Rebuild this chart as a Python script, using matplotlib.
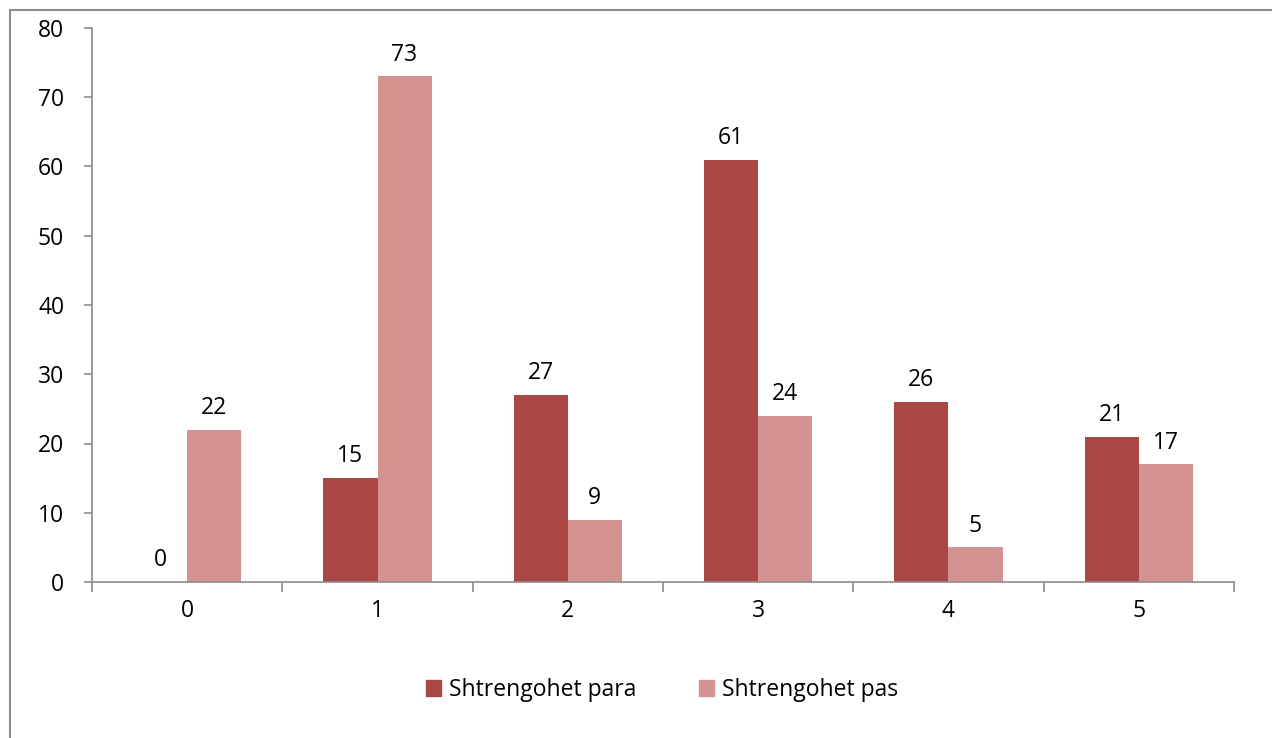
import matplotlib
matplotlib.use("Agg")
import matplotlib.pyplot as plt
from matplotlib.patches import Rectangle, Patch
import numpy as np

categories = ["0", "1", "2", "3", "4", "5"]
series_names = ["Shtrengohet para", "Shtrengohet pas"]
para = [0, 15, 27, 61, 26, 21]
pas = [22, 73, 9, 24, 5, 17]
y_ticks = [0, 10, 20, 30, 40, 50, 60, 70, 80]

c_para = "#AA4744"
c_pas = "#D49391"
grey = "#8C8C8C"
fs = 16.5

plt.rcParams["font.family"] = ["Open Sans", "DejaVu Sans"]

fig = plt.figure(figsize=(12.72, 7.38), dpi=100)
W, H = 1272, 738
ax = fig.add_axes([92 / W, 1 - 582 / H, (1234 - 92) / W, (582 - 28) / H])

# outer chart frame
fig.patches.append(Rectangle((10 / W, -0.1), 1.2, 1 - 10 / H + 0.1,
                             transform=fig.transFigure, fill=False,
                             edgecolor=grey, linewidth=1.5))

x = np.arange(len(categories))
bw = 0.284
b1 = ax.bar(x - bw / 2, para, bw, color=c_para, label=series_names[0])
b2 = ax.bar(x + bw / 2, pas, bw, color=c_pas, label=series_names[1])

for bars, vals in ((b1, para), (b2, pas)):
    for rect, v in zip(bars, vals):
        ax.annotate(str(v), (rect.get_x() + rect.get_width() / 2, v),
                    xytext=(0, 7), textcoords="offset points",
                    ha="center", va="bottom", fontsize=fs)

ax.set_xlim(-0.5, len(categories) - 0.5)
ax.set_ylim(0, 80)
ax.set_yticks(y_ticks)
ax.set_xticks(x)
ax.set_xticklabels(categories)
ax.set_xticks(np.arange(len(categories) + 1) - 0.5, minor=True)
ax.tick_params(axis="x", which="major", length=0, pad=12, labelsize=fs)
ax.tick_params(axis="x", which="minor", length=7, width=1.2, color=grey, direction="out")
ax.tick_params(axis="y", length=6, width=1.2, color=grey, direction="out", pad=14, labelsize=fs)

for s in ("top", "right"):
    ax.spines[s].set_visible(False)
for s in ("left", "bottom"):
    ax.spines[s].set_color(grey)
    ax.spines[s].set_linewidth(1.2)

handles = [Patch(color=c_para), Patch(color=c_pas)]
fig.legend(handles, series_names, loc="center", bbox_to_anchor=(662 / W, 1 - 690 / H),
           ncol=2, frameon=False, fontsize=fs, handlelength=0.65, handleheight=0.65,
           handletextpad=0.35, columnspacing=2.75)

fig.savefig("out.png", dpi=100)
